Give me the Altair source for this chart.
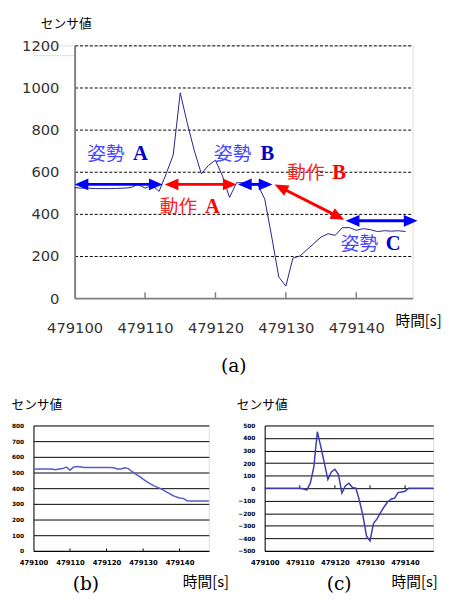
import math
import altair as alt
import pandas as pd

JP = "Noto Sans CJK JP"
SANS = "DejaVu Sans"
SERIF = "DejaVu Serif"

# ---------------- data ----------------
# panel (a): sensor value, one reading per second
time_a = list(range(479100, 479148))
sensor_a = [525, 522, 522, 520, 520, 520, 521, 522, 525, 540,
            522, 535, 507, 590, 680, 975, 830, 700, 590, 630,
            655, 580, 478, 548, 548, 545, 540, 470, 290, 100,
            57, 190, 200, 230, 260, 290, 306, 298, 334, 335,
            322, 330, 325, 316, 320, 318, 320, 316]

# panel (b): smoothed sensor value
time_b = list(range(479100, 479149))
sensor_b = [520, 522, 523, 522, 523, 522, 518, 522, 525, 535,
            515, 535, 538, 535, 532, 532, 532, 532, 532, 532,
            532, 532, 530, 522, 522, 530, 525, 505, 490, 475,
            458, 442, 428, 415, 405, 395, 382, 368, 355, 345,
            338, 335, 320, 318, 318, 318, 318, 318, 318]

# panel (c): difference signal
time_c = list(range(479100, 479149))
sensor_c = [0, 0, 0, 0, 0, 0, 0, 0, 0, 0,
            0, -5, -15, 40, 170, 450, 330, 200, 70, 130,
            150, 110, -40, 20, 40, 5, 0, -100, -220, -380,
            -420, -280, -245, -195, -150, -110, -88, -80, -35, -30,
            -25, 0, 0, 0, 0, 0, 0, 0, 0]

# axis tick labels
x_ticks = [479100, 479110, 479120, 479130, 479140]
x_inner_ticks = [479110, 479120, 479130, 479140]
y_ticks_a = [0, 200, 400, 600, 800, 1000, 1200]
y_ticks_b = [0, 100, 200, 300, 400, 500, 600, 700, 800]
y_ticks_c = [-500, -400, -300, -200, -100, 0, 100, 200, 300, 400, 500]

# annotations of panel (a): arrows (start/end), labels
arrow_t1 = [479100.0, 479112.8, 479123.2, 479128.4, 479138.5]
arrow_v1 = [540, 540, 540, 540, 367]
arrow_t2 = [479112.5, 479123.0, 479128.1, 479138.3, 479148.7]
arrow_v2 = [540, 540, 540, 372, 367]
arrow_color = ["#0000ff", "#ff0000", "#0000ff", "#ff0000", "#0000ff"]

label_word = ["姿勢", "動作", "姿勢", "動作", "姿勢"]
label_letter = ["A", "A", "B", "B", "C"]
label_word_t = [479101.8, 479112.1, 479119.8, 479130.2, 479137.8]
label_letter_t = [479108.3, 479118.5, 479126.4, 479136.6, 479144.2]
label_v = [684, 433, 684, 595, 256]
label_word_color = ["#4646ff", "#ff2020", "#4646ff", "#ff2020", "#4646ff"]
label_letter_color = ["#0000c8", "#ff0000", "#0000c8", "#ff0000", "#0000c8"]

# ---------------- panel (a) ----------------
A_W, A_H = 345, 258
A_DOM = [479100, 479148]
pxs = A_W / (A_DOM[1] - A_DOM[0])
pxv = A_H / 1200.0
HEAD = 7  # px from head centre to tip

shaft_rows, head_s, head_e = [], [], []
for t1, v1, t2, v2, c in zip(arrow_t1, arrow_v1, arrow_t2, arrow_v2, arrow_color):
    dx = (t2 - t1) * pxs
    dy = -(v2 - v1) * pxv
    L = math.hypot(dx, dy)
    ux, uy = dx / L, dy / L
    ang = math.degrees(math.atan2(dy, dx)) % 360
    st, sv = t1 + ux * HEAD / pxs, v1 - uy * HEAD / pxv
    et, ev = t2 - ux * HEAD / pxs, v2 + uy * HEAD / pxv
    shaft_rows.append({"t": st, "v": sv, "t2": et, "v2": ev, "c": c})
    head_s.append({"t": st, "v": sv, "c": c, "ang": ang})
    head_e.append({"t": et, "v": ev, "c": c, "ang": ang})

xa = alt.X("t:Q", scale=alt.Scale(domain=A_DOM, nice=False, zero=False),
           axis=alt.Axis(values=x_ticks, format="d", grid=False, ticks=False,
                         labelFlush=False, labelOverlap=False, labelPadding=23,
                         labelFont=SANS, labelFontSize=15, labelColor="#333333",
                         domainColor="#808080", domainWidth=2,
                         title="時間[s]", titleFont=JP, titleFontSize=15,
                         titleFontWeight="normal", titleColor="#000000",
                         titleX=327, titleY=23, titleAlign="left",
                         titleBaseline="middle", titleAngle=0))
ya = alt.Y("v:Q", scale=alt.Scale(domain=[0, 1200], nice=False),
           axis=alt.Axis(values=y_ticks_a, format="d", grid=True, gridColor="#000000",
                         gridDash=[3, 2], gridWidth=1,
                         gridOpacity=alt.condition("datum.value === 0", alt.value(0), alt.value(1)),
                         ticks=False, labelPadding=16,
                         labelFont=SANS, labelFontSize=15, labelColor="#333333",
                         domainColor="#808080", domainWidth=2,
                         title="センサ値", titleFont=JP, titleFontSize=13,
                         titleFontWeight="normal", titleColor="#000000",
                         titleAngle=0, titleX=-35, titleY=-22, titleAlign="left",
                         titleBaseline="middle"))

df_a = pd.DataFrame({"t": time_a, "v": sensor_a})
line_a = alt.Chart(df_a).mark_line(color="#22228c", strokeWidth=1).encode(x=xa, y=ya)

tick_len_a = 6 / pxv
ticks_a = alt.Chart(pd.DataFrame({"t": x_inner_ticks, "v": [0] * 4,
                                  "v2": [tick_len_a] * 4})).mark_rule(
    color="#808080", strokeWidth=1.5).encode(x=xa, y=ya, y2="v2:Q")

shafts = alt.Chart(pd.DataFrame(shaft_rows)).mark_rule(strokeWidth=3).encode(
    x=xa, y=ya, x2="t2:Q", y2="v2:Q", color=alt.Color("c:N", scale=None))
heads_end = alt.Chart(pd.DataFrame(head_e)).mark_point(
    shape="M1,0L-1,-0.85L-1,0.85Z", filled=True, size=196, opacity=1).encode(
    x=xa, y=ya, color=alt.Color("c:N", scale=None), angle=alt.Angle("ang:Q", scale=None))
heads_start = alt.Chart(pd.DataFrame(head_s)).mark_point(
    shape="M-1,0L1,-0.85L1,0.85Z", filled=True, size=196, opacity=1).encode(
    x=xa, y=ya, color=alt.Color("c:N", scale=None), angle=alt.Angle("ang:Q", scale=None))

words = alt.Chart(pd.DataFrame({"t": label_word_t, "v": label_v, "txt": label_word,
                                "c": label_word_color})).mark_text(
    align="left", baseline="middle", font=JP, fontSize=19).encode(
    x=xa, y=ya, text="txt:N", color=alt.Color("c:N", scale=None))
letters = alt.Chart(pd.DataFrame({"t": label_letter_t, "v": label_v, "txt": label_letter,
                                  "c": label_letter_color})).mark_text(
    align="left", baseline="middle", font="Liberation Serif", fontWeight="bold",
    fontSize=21).encode(
    x=xa, y=ya, text="txt:N", color=alt.Color("c:N", scale=None))

chart_a = alt.layer(line_a, ticks_a, shafts, heads_end, heads_start, words, letters).properties(
    width=A_W, height=A_H,
    title=alt.TitleParams("(a)", orient="bottom", anchor="middle", frame="group",
                          dx=-10, offset=22, font=SERIF, fontSize=19,
                          fontWeight="normal", color="#000000"))

spacer = alt.Chart(pd.DataFrame({"s": [0]})).mark_point(opacity=0).encode(
    x=alt.X("s:Q", axis=None), y=alt.Y("s:Q", axis=None)).properties(width=42, height=10)

row1 = alt.hconcat(spacer, chart_a, spacing=0, bounds="flush")

# ---------------- panels (b) and (c) ----------------
S_W, S_H = 179, 128
C_W = 172


def small_x(title_x):
    return alt.X("t:Q", scale=alt.Scale(domain=[479100, 479148], nice=False, zero=False),
                 axis=alt.Axis(values=x_ticks, format="d", grid=False, ticks=False,
                               labelFlush=False, labelOverlap=False, labelPadding=8,
                               labelFont=SANS, labelFontSize=7, labelFontWeight="bold",
                               labelColor="#000000", domainColor="#000000", domainWidth=1,
                               title="時間[s]", titleFont=JP, titleFontSize=15,
                               titleFontWeight="normal", titleColor="#000000",
                               titleX=title_x, titleY=31, titleAlign="left",
                               titleBaseline="middle", titleAngle=0))


def small_y(dom, vals, title_x):
    return alt.Y("v:Q", scale=alt.Scale(domain=dom, nice=False, zero=False),
                 axis=alt.Axis(values=vals, format="d", grid=True, gridColor="#000000",
                               gridWidth=1, ticks=False, labelPadding=10, labelFont=SANS,
                               labelFontSize=6, labelFontWeight="bold", labelColor="#000000",
                               domainColor="#000000", domainWidth=1,
                               title="センサ値", titleFont=JP, titleFontSize=13,
                               titleFontWeight="normal", titleColor="#000000",
                               titleAngle=0, titleX=title_x, titleY=-21, titleAlign="left",
                               titleBaseline="middle"))


xb = small_x(152)
yb = small_y([0, 800], y_ticks_b, -23)
line_b = alt.Chart(pd.DataFrame({"t": time_b, "v": sensor_b})).mark_line(
    color="#5a5ac8", strokeWidth=1.5).encode(x=xb, y=yb)
ticks_b = alt.Chart(pd.DataFrame({"t": x_inner_ticks, "v": [0] * 4,
                                  "v2": [2.5 * 800 / S_H] * 4})).mark_rule(
    color="#000000", strokeWidth=1).encode(x=xb, y=yb, y2="v2:Q")
chart_b = alt.layer(ticks_b, line_b).properties(
    width=S_W, height=S_H,
    title=alt.TitleParams("(b)", orient="bottom", anchor="middle", frame="group",
                          dx=-36, offset=-14, font=SERIF, fontSize=19,
                          fontWeight="normal", color="#000000"))

xc = small_x(129)
yc = small_y([-500, 500], y_ticks_c, -29)
line_c = alt.Chart(pd.DataFrame({"t": time_c, "v": sensor_c})).mark_line(
    color="#3c3cb4", strokeWidth=1.5).encode(x=xc, y=yc)
ticks_c = alt.Chart(pd.DataFrame({"t": x_inner_ticks, "v": [0] * 4,
                                  "v2": [3 * 1000 / S_H] * 4})).mark_rule(
    color="#000000", strokeWidth=1).encode(x=xc, y=yc, y2="v2:Q")
chart_c = alt.layer(ticks_c, line_c).properties(
    width=C_W, height=S_H,
    title=alt.TitleParams("(c)", orient="bottom", anchor="middle", frame="group",
                          dx=-10, offset=-14, font=SERIF, fontSize=19,
                          fontWeight="normal", color="#000000"))

row2 = alt.hconcat(chart_b, chart_c, spacing=57, bounds="flush")

chart = alt.vconcat(row1, row2, spacing=22,
                    padding={"left": 2, "top": 3, "right": 0, "bottom": 0}
                    ).configure_view(stroke=None).configure(background="#ffffff")

chart.save("out.html", embed_options={"renderer": "svg", "actions": False})
